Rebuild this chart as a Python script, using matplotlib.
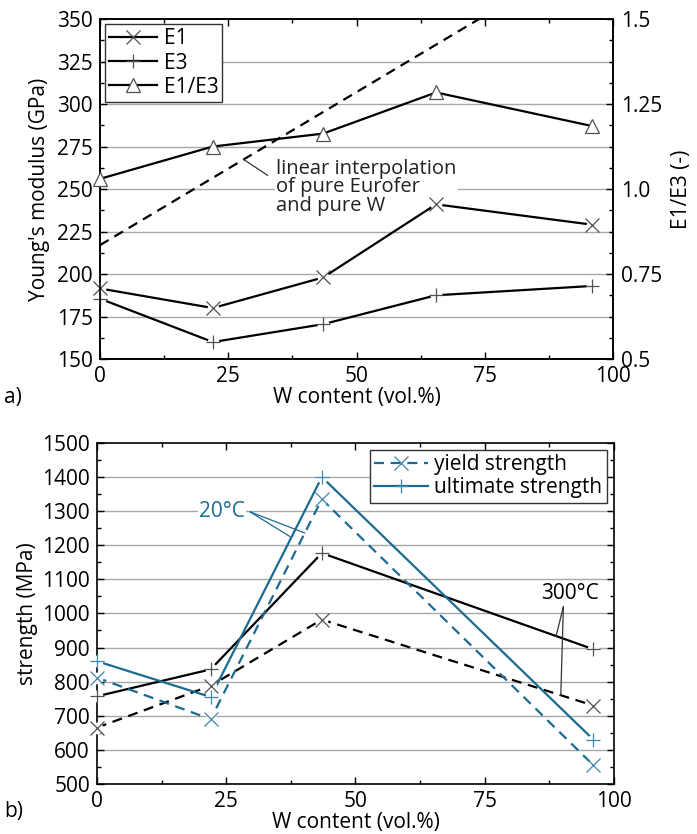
import numpy as np
import matplotlib
matplotlib.use('Agg')
import matplotlib.pyplot as plt
from matplotlib.lines import Line2D
from matplotlib.ticker import MultipleLocator, FixedLocator

plt.rcParams['font.family'] = ['Open Sans', 'DejaVu Sans']
plt.rcParams['font.size'] = 15

# ---- panel a data ----
w_a = [0, 22, 43.5, 65.5, 96]
E1 = [191.5, 180, 198, 241, 229]
E3 = [185.5, 160, 170.5, 187.5, 193]
ratio = [1.03, 1.125, 1.163, 1.284, 1.185]
interp_w = [0, 100]
interp_E = [217, 397]

# ---- panel b data ----
w_b = [0, 22, 43.5, 96]
ys20 = [812, 690, 1335, 555]
us20 = [860, 755, 1400, 630]
ys300 = [665, 788, 982, 730]
us300 = [757, 836, 1177, 895]

xticks = [0, 25, 50, 75, 100]
yticks_a = [150, 175, 200, 225, 250, 275, 300, 325, 350]
yticks_r = [0.5, 0.75, 1.0, 1.25, 1.5]
yticks_r_lab = ['0.5', '0.75', '1.0', '1.25', '1.5']
yticks_b = [500, 600, 700, 800, 900, 1000, 1100, 1200, 1300, 1400, 1500]

BLUE = '#1b6a92'
MGRAY = '#505050'
GRID = '#a8a8a8'
LW = 1.6
DASH = (0, (4.5, 3))

fig = plt.figure(figsize=(6.97, 8.34), dpi=100)


def series(ax, x, y, color, ls, marker, mcolor, ms, mfc='none', gap=True):
    ax.plot(x, y, color=color, ls=ls, lw=LW, zorder=3, clip_on=True)
    if gap:
        ax.plot(x, y, ls='none', marker='o', ms=ms * 0.85, mfc='white',
                mec='none', zorder=4, clip_on=False)
    ax.plot(x, y, ls='none', marker=marker, ms=ms, mec=mcolor, mew=0.9,
            mfc=mfc, zorder=5, clip_on=False)


def style_ax(ax):
    for s in ax.spines.values():
        s.set_linewidth(1.2)
    ax.tick_params(which='both', direction='in', top=True, right=True,
                   width=1.0)
    ax.tick_params(which='major', length=5)
    ax.tick_params(which='minor', length=3)


# ================= panel a =================
ax = fig.add_axes([0.1435, 0.5695, 0.736, 0.4077])
ax.set_xlim(0, 100)
ax.set_ylim(150, 350)
ax.set_xticks(xticks)
ax.set_yticks(yticks_a)
ax.xaxis.set_minor_locator(MultipleLocator(12.5))
ax.yaxis.set_minor_locator(MultipleLocator(12.5))
for v in yticks_a[1:-1]:
    ax.axhline(v, color=GRID, lw=1.0, zorder=1)
style_ax(ax)
ax.tick_params(right=False, which='both')
ax.tick_params(axis='x', pad=5)
ax.tick_params(axis='y', pad=5)

ax.plot(interp_w, interp_E, color='black', ls=DASH, lw=LW, zorder=3)
series(ax, w_a, E1, 'black', '-', 'x', MGRAY, 10)
series(ax, w_a, E3, 'black', '-', '+', MGRAY, 10)

ax2 = ax.twinx()
ax2.set_ylim(0.5, 1.5)
ax2.yaxis.set_major_locator(FixedLocator(yticks_r))
ax2.set_yticklabels(yticks_r_lab)
ax2.yaxis.set_minor_locator(MultipleLocator(0.0625))
ax2.tick_params(which='both', direction='in', width=1.0, pad=6)
ax2.tick_params(which='major', length=5)
ax2.tick_params(which='minor', length=3)
for s in ax2.spines.values():
    s.set_linewidth(1.2)
series(ax2, w_a, ratio, 'black', '-', '^', MGRAY, 10.5, mfc='white', gap=False)

ax.set_ylabel("Young's modulus (GPa)", labelpad=5)
ax2.set_ylabel('E1/E3 (-)', labelpad=6)
ax.set_xlabel('W content (vol.%)', labelpad=0)

# annotation
xa_txt, ya_txt = 34.3, 251
ax.text(xa_txt, ya_txt, 'linear interpolation\nof pure Eurofer\nand pure W',
        ha='left', va='center', linespacing=0.9, color='#222222', zorder=2,
        fontsize=14.5, bbox=dict(fc='white', ec='none', pad=1.0))
xa_pt = 28
ax.annotate('', xy=(xa_pt, np.interp(xa_pt, interp_w, interp_E)),
            xytext=(32.7, 258),
            arrowprops=dict(arrowstyle='-', color='#333333', lw=0.9,
                            shrinkA=0, shrinkB=0), zorder=6)

hA = [Line2D([], [], color='black', lw=LW, marker='x', ms=10, mec=MGRAY, mew=0.9),
      Line2D([], [], color='black', lw=LW, marker='+', ms=10, mec=MGRAY, mew=0.9),
      Line2D([], [], color='black', lw=LW, marker='^', ms=10, mec=MGRAY, mew=0.9, mfc='white')]
leg = ax2.legend(hA, ['E1', 'E3', 'E1/E3'], loc='upper left', fancybox=False,
                 framealpha=1, edgecolor='#333333', borderaxespad=0.25,
                 handlelength=2.3, handletextpad=0.3, labelspacing=0.15,
                 borderpad=0.2)
leg.get_frame().set_linewidth(1.0)
leg.set_zorder(10)

fig.text(0.006, 1 - 398 / 834, 'a)', ha='left', va='center')

# ================= panel b =================
bx = fig.add_axes([0.139, 0.060, 0.742, 0.4089])
bx.set_xlim(0, 100)
bx.set_ylim(500, 1500)
bx.set_xticks(xticks)
bx.set_yticks(yticks_b)
bx.xaxis.set_minor_locator(MultipleLocator(12.5))
bx.yaxis.set_minor_locator(MultipleLocator(50))
for v in yticks_b[1:-1]:
    bx.axhline(v, color=GRID, lw=1.0, zorder=1)
style_ax(bx)
bx.tick_params(axis='x', pad=5)
bx.tick_params(axis='y', pad=5)

series(bx, w_b, us300, 'black', '-', '+', MGRAY, 10)
series(bx, w_b, ys300, 'black', DASH, 'x', MGRAY, 10)
series(bx, w_b, us20, BLUE, '-', '+', '#3f86ab', 10)
series(bx, w_b, ys20, BLUE, DASH, 'x', '#3f86ab', 10)

bx.set_ylabel('strength (MPa)', labelpad=3)
bx.set_xlabel('W content (vol.%)', labelpad=0)

# 20°C annotation
bx.text(24.2, 1300, '20°C', color=BLUE, ha='center', va='center', zorder=2,
        bbox=dict(fc='white', ec='none', pad=1.0))
for xp, ser in [(40.2, ys20), (37.6, us20)]:
    bx.annotate('', xy=(xp, np.interp(xp, w_b, ser)), xytext=(29.6, 1298),
                arrowprops=dict(arrowstyle='-', color=BLUE, lw=0.9,
                                shrinkA=0, shrinkB=0), zorder=6)
# 300°C annotation
bx.text(91.5, 1058, '300°C', color='black', ha='center', va='center', zorder=6)
for xp, ser in [(88.8, us300), (89.7, ys300)]:
    bx.annotate('', xy=(xp, np.interp(xp, w_b, ser)), xytext=(90.2, 1020),
                arrowprops=dict(arrowstyle='-', color='#333333', lw=0.9,
                                shrinkA=0, shrinkB=0), zorder=6)

hB = [Line2D([], [], color=BLUE, lw=LW, ls=DASH, marker='x', ms=10, mec='#3f86ab', mew=0.9),
      Line2D([], [], color=BLUE, lw=LW, marker='+', ms=10, mec='#3f86ab', mew=0.9)]
legb = bx.legend(hB, ['yield strength', 'ultimate strength'], loc='upper right',
                 fancybox=False, framealpha=1, edgecolor='#333333',
                 borderaxespad=0.35, handlelength=2.6, handletextpad=0.3,
                 labelspacing=0.1, borderpad=0.2)
legb.get_frame().set_linewidth(1.0)
legb.set_zorder(10)

fig.text(0.006, 1 - 812 / 834, 'b)', ha='left', va='center')

fig.savefig('out.png', dpi=100)
